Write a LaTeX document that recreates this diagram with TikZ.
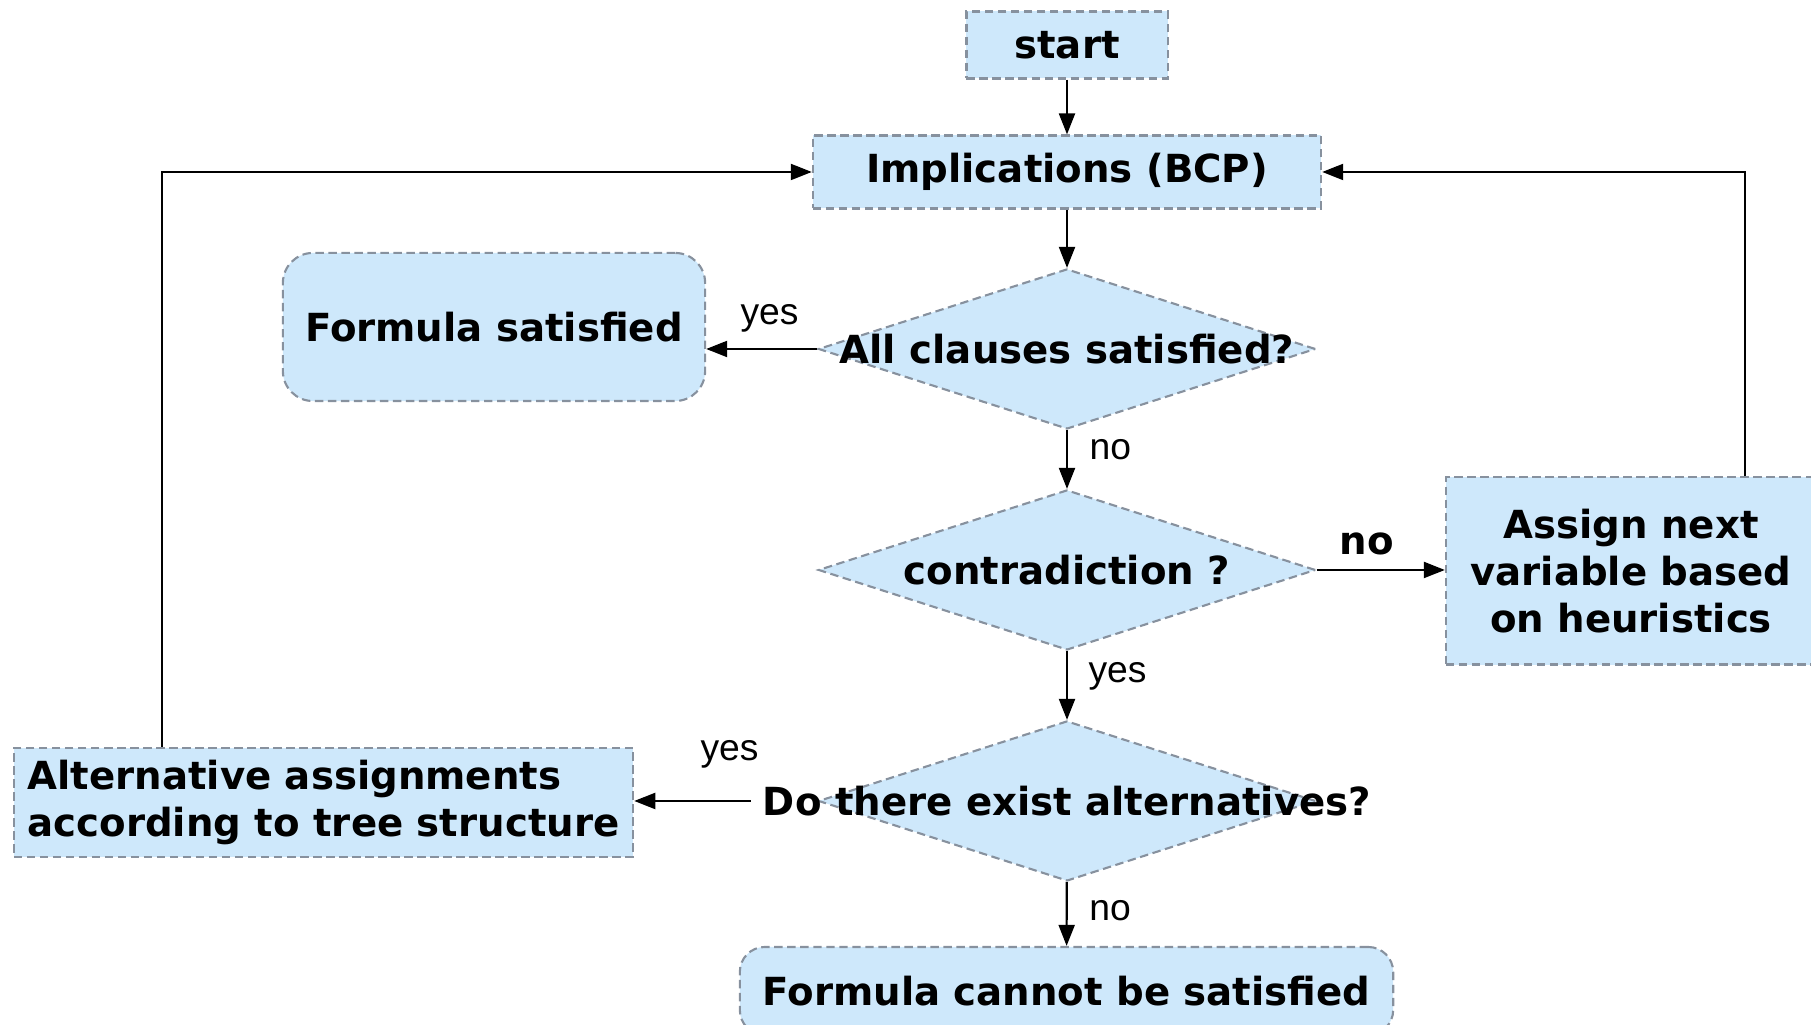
\documentclass[tikz,border=0pt]{standalone}
\usepackage{fontspec}
\usepackage{tikz}
\usetikzlibrary{shapes.geometric, arrows.meta}
\newfontfamily\boxfont{DejaVu Sans}
\newfontfamily\labelfont{Liberation Sans}
\definecolor{light}{RGB}{206, 232, 251}
\definecolor{border}{RGB}{135, 145, 158}

\begin{document}
\begin{tikzpicture}[x=0.01cm, y=0.01cm,
    txt/.style={font=\boxfont\bfseries\fontsize{11}{13.3}\selectfont},
    box/.style={txt, draw=border, fill=light, line width=0.6pt,
                dash pattern=on 2.4pt off 1.3pt, inner sep=0pt},
    roundbox/.style={box, rounded corners=0.3cm},
    decision/.style={box, diamond, minimum width=4.97cm, minimum height=1.6cm},
    ans/.style={font=\labelfont\fontsize{10.6}{12}\selectfont, inner sep=1pt},
    flow/.style={line width=0.6pt, -{Triangle[length=0.21cm, width=0.16cm]}}]

  \useasboundingbox (0, 0) rectangle (1811, 1025);

  \node[box, minimum width=2.01cm, minimum height=0.67cm] (start) at (1067, 980) {start};
  \node[box, minimum width=5.08cm, minimum height=0.73cm] (impl) at (1067, 853) {Implications (BCP)};

  \node[decision, label={[txt]center:All clauses satisfied?}] (clauses) at (1067, 676) {};
  \node[roundbox, minimum width=4.22cm, minimum height=1.48cm] (sat) at (494, 698) {Formula satisfied};

  \node[decision, label={[txt]center:contradiction ?}] (contra) at (1067, 455) {};
  \node[box, align=center, minimum width=3.7cm, minimum height=1.87cm] (assign) at (1631, 454)
    {Assign next\\variable based\\on heuristics};

  \node[decision, label={[txt, name=existtext]center:Do there exist alternatives?}] (exist) at (1067, 224) {};
  \node[box, align=left, minimum width=6.19cm, minimum height=1.09cm] (alt) at (323.5, 222.5)
    {Alternative assignments\\according to tree structure};

  \node[roundbox, rounded corners=0.25cm, minimum width=6.53cm, minimum height=0.88cm] (unsat) at (1066.5, 34)
    {Formula cannot be satisfied};

  \draw[flow] (start) -- (impl);
  \draw[flow] (impl) -- (clauses);
  \draw[flow] (clauses.west) -- node[ans, anchor=base, yshift=0.24cm, pos=0.43] {yes} (clauses.west -| sat.east);
  \draw[flow] (clauses) -- node[ans, anchor=base west, xshift=0.18cm, pos=0.5] {no} (contra);
  \draw[flow] (contra.east) -- node[txt, inner sep=1pt, anchor=base, yshift=0.15cm, pos=0.39] {no} (contra.east -| assign.west);
  \draw[flow] (contra) -- node[ans, anchor=base west, xshift=0.17cm, pos=0.45] {yes} (exist);
  \draw[flow] (existtext.west) -- node[ans, anchor=base, yshift=0.4cm, pos=0.18] {yes} (existtext.west -| alt.east);
  \draw[flow] (exist) -- node[ans, anchor=base west, xshift=0.18cm, pos=0.6] {no} (unsat);

  \draw[flow] ([xshift=-1.615cm]alt.north) |- (impl.west);
  \draw[flow] ([xshift=1.14cm]assign.north) |- (impl.east);

\end{tikzpicture}
\end{document}
